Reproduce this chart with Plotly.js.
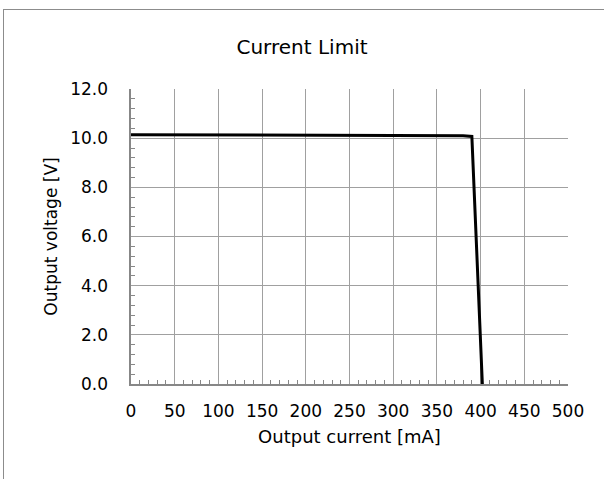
<!DOCTYPE html>
<html>
<head>
<meta charset="utf-8">
<script src="https://cdn.plot.ly/plotly-3.0.1.min.js"></script>
<style>
  html, body { margin: 0; padding: 0; background: #fff; overflow: hidden; }
  #frame { position: absolute; left: 3px; top: 9px; width: 640px; height: 520px; border: 1px solid #8c8c8c; box-sizing: border-box; }
  #plot { position: absolute; left: 0; top: 0; width: 604px; height: 479px; }
</style>
</head>
<body>
<div id="frame"></div>
<div id="plot"></div>
<script>
const currentMA = [0, 100, 200, 300, 380, 387, 390, 402];
const voltageV  = [10.14, 10.14, 10.13, 10.11, 10.10, 10.09, 10.07, 0.0];

const font = { family: 'DejaVu Sans, Verdana, sans-serif', color: '#000' };

const trace = {
  x: currentMA, y: voltageV, type: 'scatter', mode: 'lines',
  line: { color: '#000', width: 3 }, hoverinfo: 'skip'
};

const layout = {
  width: 604, height: 479,
  margin: { l: 131, r: 36, t: 89, b: 95 },
  paper_bgcolor: 'rgba(0,0,0,0)', plot_bgcolor: 'rgba(0,0,0,0)',
  showlegend: false,
  font: Object.assign({ size: 17 }, font),
  title: { text: 'Current Limit', x: 0.5, xanchor: 'center', y: 0.902, yanchor: 'middle', font: Object.assign({ size: 20 }, font) },
  xaxis: {
    range: [0, 500], dtick: 50, tick0: 0, fixedrange: true,
    showgrid: true, gridcolor: '#a0a0a0', gridwidth: 1,
    showline: true, linecolor: '#878787', linewidth: 1.6,
    ticks: '', zeroline: false, ticklabelstandoff: 11,
    tickfont: Object.assign({ size: 17 }, font),
    minor: { dtick: 10, ticks: 'inside', ticklen: 4, tickcolor: '#878787', tickwidth: 1, showgrid: false },
    title: { text: 'Output current [mA]', standoff: 10, font: Object.assign({ size: 18 }, font) }
  },
  yaxis: {
    range: [0, 12], dtick: 2, tick0: 0, tickformat: '.1f', fixedrange: true,
    showgrid: true, gridcolor: '#a0a0a0', gridwidth: 1,
    showline: true, linecolor: '#878787', linewidth: 1.6,
    ticks: '', zeroline: false, ticklabelstandoff: 18,
    tickfont: Object.assign({ size: 17 }, font),
    minor: { dtick: 0.4, ticks: 'inside', ticklen: 4, tickcolor: '#878787', tickwidth: 1, showgrid: false },
    title: { text: 'Output voltage [V]', standoff: 8, font: Object.assign({ size: 17 }, font) }
  }
};

Plotly.newPlot('plot', [trace], layout, { staticPlot: true, displayModeBar: false });
</script>
</body>
</html>
